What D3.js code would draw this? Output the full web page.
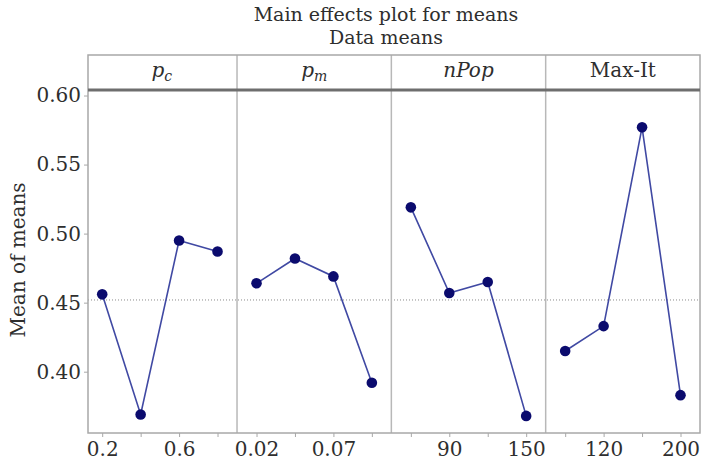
<!DOCTYPE html>
<html>
<head>
<meta charset="utf-8">
<script src="https://cdn.jsdelivr.net/npm/d3@7"></script>
<style>
  body { margin: 0; background: #fff; }
  text { font-family: "DejaVu Serif", serif; fill: #2e2e2e; }
</style>
</head>
<body>
<script>
// factors (panel headers) and their level labels (blank = unlabeled level)
var factors = ["pc", "pm", "nPop", "Max-It"];
var pcLabels = ["0.2", "", "0.6", ""];
var pmLabels = ["0.02", "", "0.07", ""];
var nPopLabels = ["", "90", "", "150"];
var maxItLabels = ["", "120", "", "200"];

// mean of means for each level
var pcMeans = [0.456, 0.369, 0.495, 0.487];
var pmMeans = [0.464, 0.482, 0.469, 0.392];
var nPopMeans = [0.519, 0.457, 0.465, 0.368];
var maxItMeans = [0.415, 0.433, 0.577, 0.383];

var yTicks = [0.40, 0.45, 0.50, 0.55, 0.60];

var labels = [pcLabels, pmLabels, nPopLabels, maxItLabels];
var means = [pcMeans, pmMeans, nPopMeans, maxItMeans];
var grandMean = d3.mean([].concat(pcMeans, pmMeans, nPopMeans, maxItMeans));

var W = 704, H = 466;
var plotL = 88, plotR = 700, headTop = 55, plotT = 90, plotB = 433;

var svg = d3.select("body").append("svg")
  .attr("width", W)
  .attr("height", H);

// panels share the width equally; the first one is cut by the frame
var panel = d3.scaleBand().domain(d3.range(factors.length)).range([82.7, plotR]).padding(0);
var y = d3.scaleLinear().domain([0.3556, 0.604]).range([plotB, plotT]);

// titles
svg.append("text").attr("x", 386).attr("y", 21).attr("text-anchor", "middle")
  .style("font-size", "19px").text("Main effects plot for means");
svg.append("text").attr("x", 386).attr("y", 44).attr("text-anchor", "middle")
  .style("font-size", "19px").text("Data means");

// y title
svg.append("text")
  .attr("transform", "translate(25,260) rotate(-90)")
  .attr("text-anchor", "middle")
  .style("font-size", "20px")
  .text("Mean of means");

// grand mean reference line
svg.append("line")
  .attr("x1", plotL).attr("x2", plotR)
  .attr("y1", y(grandMean)).attr("y2", y(grandMean))
  .style("stroke", "#8a8a8a")
  .style("stroke-width", 1)
  .style("stroke-dasharray", "1,2");

// panel dividers
for (var j = 1; j < factors.length; j++) {
  svg.append("line")
    .attr("x1", panel(j)).attr("x2", panel(j))
    .attr("y1", headTop).attr("y2", plotB)
    .style("stroke", "#b8b8b8")
    .style("stroke-width", 1.5);
}

// frame
svg.append("rect")
  .attr("x", plotL).attr("y", headTop)
  .attr("width", plotR - plotL).attr("height", plotB - headTop)
  .style("fill", "none")
  .style("stroke", "#a8a8a8")
  .style("stroke-width", 1.5);

// header bottom rule
svg.append("line")
  .attr("x1", plotL).attr("x2", plotR)
  .attr("y1", plotT).attr("y2", plotT)
  .style("stroke", "#6e6e6e")
  .style("stroke-width", 3);

// header labels
var heads = svg.selectAll(".head").data(factors).enter().append("text")
  .attr("class", "head")
  .attr("x", function(d, i){ return panel(i) + panel.bandwidth() / 2 + (i === 0 ? 2 : 0); })
  .attr("y", 77)
  .attr("text-anchor", "middle")
  .style("font-size", "20px");
heads.each(function(d){
  var t = d3.select(this);
  if (d === "pc" || d === "pm") {
    t.append("tspan").style("font-style", "italic").text("p");
    t.append("tspan").style("font-style", "italic").style("font-size", "14px")
      .attr("dy", 4).text(d.charAt(1));
  } else if (d === "nPop") {
    t.style("font-style", "italic").text(d);
  } else {
    t.text(d);
  }
});

// y axis
var yAxis = svg.append("g")
  .attr("transform", "translate(" + plotL + ",0)")
  .call(d3.axisLeft(y).tickValues(yTicks).tickFormat(d3.format(".2f")).tickSize(4).tickPadding(3));
yAxis.select(".domain").remove();
yAxis.selectAll("line").style("stroke", "#a8a8a8");
yAxis.selectAll("text").style("font-size", "20px").style("font-family", "DejaVu Serif").style("fill", "#2e2e2e");

var line = d3.line();

for (var k = 0; k < factors.length; k++) {
  var x0 = panel(k);
  var px = d3.scalePoint().domain(d3.range(means[k].length))
    .range([x0 + 19.5, x0 + panel.bandwidth() - 19.5]);

  var xa = svg.append("g")
    .attr("transform", "translate(0," + plotB + ")")
    .call(d3.axisBottom(px).tickFormat((function(lab){ return function(i){ return lab[i]; }; })(labels[k])).tickSize(4).tickPadding(5));
  xa.select(".domain").remove();
  xa.selectAll("line").style("stroke", "#a8a8a8");
  xa.selectAll("text").style("font-size", "20px").style("font-family", "DejaVu Serif").style("fill", "#2e2e2e");

  var pts = means[k].map(function(v, i){ return [px(i), y(v)]; });

  svg.append("path")
    .attr("d", line(pts))
    .style("fill", "none")
    .style("stroke", "#4049a3")
    .style("stroke-width", 1.6);

  svg.selectAll(".pt" + k).data(means[k]).enter().append("circle")
    .attr("class", "pt" + k)
    .attr("cx", function(d, i){ return px(i); })
    .attr("cy", function(d){ return y(d); })
    .attr("r", 5.3)
    .style("fill", "#0b0b6e");
}
</script>
</body>
</html>
